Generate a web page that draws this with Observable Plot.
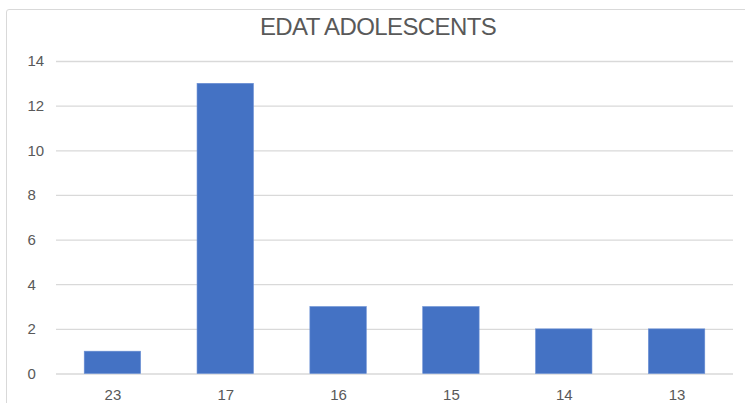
<!DOCTYPE html>
<html>
<head>
<meta charset="utf-8">
<script src="https://cdn.jsdelivr.net/npm/d3@7"></script>
<script src="https://cdn.jsdelivr.net/npm/@observablehq/plot@0.6"></script>
<style>
  html, body { margin: 0; padding: 0; background: #fff; }
  #wrap { position: relative; width: 745px; height: 403px; overflow: hidden; font-family: "Liberation Sans", Arial, sans-serif; }
  #frame { position: absolute; left: 6px; top: 9px; width: 760px; height: 420px; border: 1px solid #d9d9d9; border-radius: 3px; box-sizing: border-box; }
  #title { position: absolute; left: 0; top: 12px; width: 756px; text-align: center; font-size: 24px; line-height: 30px; color: #595959; letter-spacing: -0.6px; }
  #chart { position: absolute; left: 0; top: 45px; }
</style>
</head>
<body>
<div id="wrap">
  <div id="frame"></div>
  <div id="title">EDAT ADOLESCENTS</div>
  <div id="chart"></div>
</div>
<script>
const categories = ["23", "17", "16", "15", "14", "13"];
const values = [1, 13, 3, 3, 2, 2];
const yTicks = [0, 2, 4, 6, 8, 10, 12, 14];

const data = categories.map((c, i) => ({ category: c, value: values[i] }));

const chart = Plot.plot({
  width: 745,
  height: 358,
  marginLeft: 56,
  marginRight: 12,
  marginTop: 16,
  marginBottom: 29.5,
  style: { fontFamily: "Liberation Sans, Arial, sans-serif", fontSize: "15px", color: "#595959", background: "transparent" },
  x: { domain: categories, paddingInner: 0.5, paddingOuter: 0.25, round: false, label: null },
  y: { domain: [0, 14], label: null },
  marks: [
    Plot.gridY(yTicks, { stroke: "#d9d9d9", strokeOpacity: 1, strokeWidth: 1.3 }),
    Plot.barY(data, { x: "category", y: "value", fill: "#4472C4", stroke: "#6a8fd4", strokeWidth: 0.6 }),
    Plot.axisY(yTicks, { tickSize: 0, tickPadding: 29, textAnchor: "start", label: null, fill: "#595959", fontSize: 15 }),
    Plot.axisX({ tickSize: 0, tickPadding: 15, label: null, fill: "#595959", fontSize: 15 })
  ]
});
document.getElementById("chart").appendChild(chart);
</script>
</body>
</html>
